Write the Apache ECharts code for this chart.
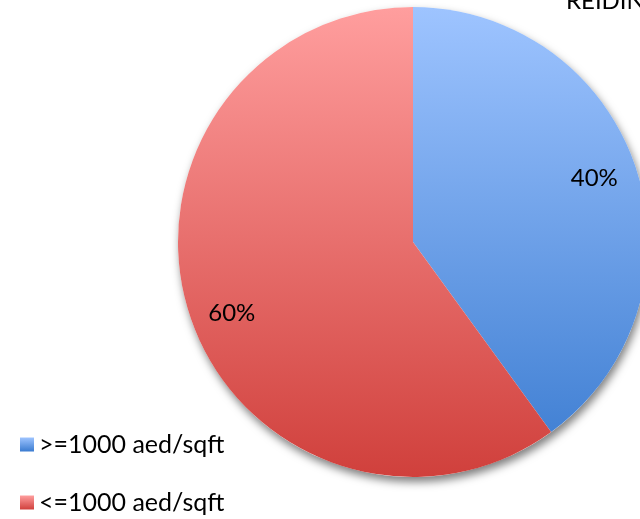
<!DOCTYPE html>
<html>
<head>
<meta charset="utf-8">
<script src="https://cdn.jsdelivr.net/npm/echarts@6/dist/echarts.min.js"></script>
<style>
  html, body { margin: 0; padding: 0; background: #fff; }
  #chart { width: 640px; height: 519px; }
</style>
</head>
<body>
<div id="chart"></div>
<script>
// Share of units by price per square foot
const categories = ['>=1000 aed/sqft', '<=1000 aed/sqft'];
const shares = [40, 60];
const titleText = 'REIDIN';

// Top/bottom shades of each slice's vertical gradient
const topColors = ['#9ec4ff', '#ff9e9e'];
const bottomColors = ['#3a7bd0', '#d0403c'];

const chart = echarts.init(document.getElementById('chart'), null, { renderer: 'canvas' });

const cx = 413, cy = 242, R = 235;
const font = 'Lato, "Liberation Sans", sans-serif';

// Gradient spanning the whole pie height (global coordinates)
function pieGradient(i) {
  return new echarts.graphic.LinearGradient(0, cy - R, 0, cy + R, [
    { offset: 0, color: topColors[i] },
    { offset: 1, color: bottomColors[i] }
  ], true);
}
// Small local gradient for the legend swatches
function swatchGradient(i) {
  return new echarts.graphic.LinearGradient(0, 0, 0, 1, [
    { offset: 0, color: topColors[i] },
    { offset: 1, color: bottomColors[i] }
  ]);
}

const sliceData = categories.map((name, i) => ({
  name, value: shares[i], itemStyle: { color: pieGradient(i) }
}));
const labelData = categories.map((name, i) => ({ name, value: shares[i] }));

chart.setOption({
  animation: false,
  title: {
    text: titleText,
    left: 566, top: -11, padding: 0,
    textStyle: { fontFamily: font, fontSize: 24, fontWeight: 'normal', color: '#000' }
  },
  legend: {
    orient: 'vertical',
    left: 20, top: 432,
    padding: 0,
    height: 140,
    icon: 'rect',
    itemWidth: 14, itemHeight: 14,
    itemGap: 33,
    selectedMode: false,
    textStyle: { fontFamily: font, fontSize: 25, color: '#000' },
    data: categories.map((name, i) => ({ name, itemStyle: { color: swatchGradient(i) } }))
  },
  series: [
    {
      // soft drop shadow under the whole disc
      type: 'pie', silent: true, center: [cx, cy], radius: R,
      label: { show: false }, labelLine: { show: false },
      itemStyle: { color: '#fff', shadowBlur: 9, shadowOffsetX: 2, shadowOffsetY: 5, shadowColor: 'rgba(0,0,0,0.5)' },
      data: [{ name: '_disc', value: 1 }],
      z: 1
    },
    {
      type: 'pie', silent: true, center: [cx, cy], radius: R,
      startAngle: 90, clockwise: true,
      label: { show: false }, labelLine: { show: false },
      data: sliceData,
      z: 2
    },
    {
      // transparent ring carrying the percentage labels
      type: 'pie', silent: true, center: [cx, cy], radius: [146, R],
      startAngle: 92.5, clockwise: true,
      itemStyle: { color: 'rgba(0,0,0,0)' },
      label: {
        show: true, position: 'inside', formatter: '{d}%',
        offset: [0, 4],
        fontFamily: font, fontSize: 24, color: '#000'
      },
      labelLine: { show: false },
      data: labelData,
      z: 3
    }
  ]
});
</script>
</body>
</html>
